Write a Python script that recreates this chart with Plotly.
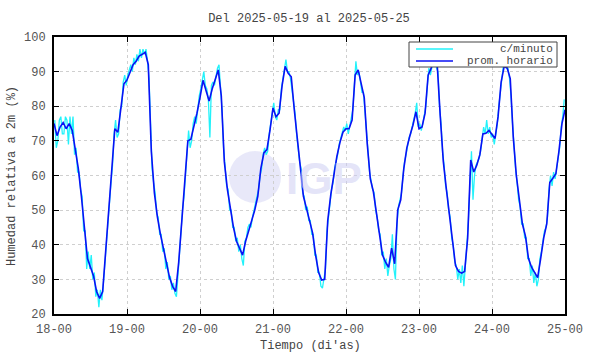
import plotly.graph_objects as go

# hourly averages (hour 0 = 2025-05-18 00:00)
hourly = [75, 71.5, 74, 75.3, 73.5, 75, 73, 68, 62, 54, 44, 36, 33.5, 31, 26.5, 24.5, 26.5, 38, 50, 62,
          73.5, 72.5, 79, 86.5, 87.6, 90, 92, 93, 94.5, 95, 95.6, 92, 67, 55, 48, 43, 38.5, 34, 30.5, 28,
          26.5, 35, 47, 58, 70, 70.5, 74, 78, 82.5, 87.5, 84.5, 81.5, 85, 88, 90.5, 83, 64, 56, 50, 45,
          41, 39, 37, 41, 44, 47, 50, 54, 62, 66.5, 67.5, 73, 79.5, 77, 78, 86, 91.5, 89.5, 88.5, 79,
          70, 63, 54, 50.5, 47, 43.5, 37, 32, 29.8, 30, 47, 54.5, 60, 65.5, 69.5, 72.5, 73.5, 73.5, 76, 89,
          90.5, 86, 82.5, 69, 59, 55.3, 49, 43, 37, 35, 33.5, 39, 34.5, 50, 53, 62, 68, 71.5, 74.5, 78.4,
          73.5, 74, 78, 89, 91, 94, 91.8, 77, 64, 56, 49, 41, 34, 32.3, 31.8, 32.3, 42, 64.5, 61, 63,
          66, 72, 72.2, 73, 72, 70.7, 77, 87, 91.5, 91, 88, 71, 60, 52, 46, 42.5, 36, 33.5, 32, 30.5,
          36, 42, 46, 58, 59.2, 60.5, 67, 75, 79]

# per-minute readings, sampled at h+0.25 and h+0.75 of each hour
minute_a = [76, 70, 77, 72, 76, 77, 77, 68, 61, 54, 44, 38, 37, 32, 27, 27, 29, 40, 54, 63,
            76, 72, 80, 89, 89, 92, 94, 95, 96.5, 96.5, 96.5, 88, 62, 55, 48, 43, 39, 35, 31, 29,
            25, 37, 50, 60, 73, 70, 77, 80, 85, 90, 85, 71, 87, 89, 92, 79, 63, 56, 50, 45,
            42, 40, 34, 42, 46, 48, 52, 56, 62, 68, 67, 75, 81, 76, 79, 88, 93.5, 90, 85, 78,
            68, 62, 54, 51, 47, 43, 37, 32, 27.5, 33, 48, 56, 62, 66, 71, 74, 75, 74, 79, 93,
            90, 84, 79, 67, 59, 55, 48, 43, 38, 36, 34, 43, 30, 51, 55, 64, 68, 72, 75, 81,
            75, 75, 80, 91, 91, 96, 90, 75, 63, 55, 48, 40, 34, 33, 34, 33, 47, 67, 60, 64,
            67, 74, 76, 74, 72, 72, 80, 88, 93, 91, 83, 68, 58, 51, 46, 42, 36, 34, 32, 30,
            38, 44, 48, 60, 61, 62, 68, 77]
minute_b = [68, 76, 72, 77, 69, 72, 66, 61, 56, 44, 33, 33, 30, 25, 22, 24, 35, 46, 58, 72,
            71, 79, 87, 86, 91, 90, 92, 93, 94, 95, 93, 75, 58, 49, 43, 38, 33, 30, 27, 26,
            31, 45, 54, 68, 68, 75, 75, 83, 88, 86, 82, 86, 86, 91, 85, 68, 57, 50, 45, 41,
            38, 36, 41, 45, 45, 50, 53, 60, 66, 66, 72, 78, 77, 79, 85, 91, 90, 88, 82, 72,
            64, 55, 50, 47, 43, 37, 32, 28, 31, 44, 53, 58, 64, 69, 72, 73, 72, 76, 86, 89,
            87, 84, 73, 61, 56, 50, 44, 37, 33, 31, 36, 33, 46, 53, 60, 66, 71, 74, 78, 74,
            73, 78, 86, 89, 94, 91, 80, 67, 57, 50, 42, 35, 30, 29, 28, 40, 59, 53, 63, 65,
            71, 72, 72, 71, 69, 75, 85, 92, 91, 88, 75, 62, 53, 46, 42, 36, 31, 29, 28, 36,
            41, 45, 56, 57, 59, 66, 74, 82]

tick_hours = [0, 24, 48, 72, 96, 120, 144, 168]
tick_labels = ["18-00", "19-00", "20-00", "21-00", "22-00", "23-00", "24-00", "25-00"]
y_ticks = [20, 30, 40, 50, 60, 70, 80, 90, 100]
series_names = ["c/minuto", "prom. horario"]

hours = list(range(len(hourly)))
mx, my = [], []
for h in range(len(minute_a)):
    mx += [h + 0.25, h + 0.75]
    my += [minute_a[h], minute_b[h]]

FONT = "Liberation Mono, Courier New, monospace"
CYAN = "#22f2fa"
BLUE = "#0a10f5"
L, R, T, B = 54, 565, 37, 314
W = R - L
H = B - T
def px(x):
    return (x - L) / W
def py(y):
    return 1 - (y - T) / H

fig = go.Figure()
fig.add_trace(go.Scatter(x=mx, y=my, mode="lines", name=series_names[0],
                         line=dict(color=CYAN, width=1.3), showlegend=False))
fig.add_trace(go.Scatter(x=hours, y=hourly, mode="lines", name=series_names[1],
                         line=dict(color=BLUE, width=1.6), showlegend=False))

# watermark
fig.add_shape(type="circle", xref="paper", yref="paper",
              x0=px(229), x1=px(281), y0=py(203), y1=py(151),
              fillcolor="rgba(205,205,242,0.45)", line=dict(width=0), layer="below")
fig.add_annotation(text="<b>IGP</b>", xref="paper", yref="paper",
                   x=px(324), y=py(178), showarrow=False,
                   font=dict(family="Liberation Sans, Arial", size=44, color="rgba(205,205,242,0.55)"))

# legend box drawn manually
fig.add_shape(type="rect", xref="paper", yref="paper", x0=px(409), x1=px(557), y0=py(67), y1=py(42),
              fillcolor="white", line=dict(color="#444444", width=1), layer="above")
for i, (nm, col) in enumerate(zip(series_names, [CYAN, BLUE])):
    yy = 49 + 12 * i
    fig.add_shape(type="line", xref="paper", yref="paper", x0=px(416), x1=px(453), y0=py(yy), y1=py(yy),
                  line=dict(color=col, width=1.4), layer="above")
    fig.add_annotation(text=nm, xref="paper", yref="paper", x=px(555), y=py(yy), xanchor="right",
                       yanchor="middle", showarrow=False,
                       font=dict(family=FONT, size=11, color="#444444"))

# axis titles
fig.add_annotation(text="Tiempo (di'as)", xref="paper", yref="paper", x=px(310), y=py(346),
                   xanchor="center", yanchor="middle", showarrow=False,
                   font=dict(family=FONT, size=12, color="#444444"))
fig.add_annotation(text="Humedad relativa a 2m (%)", xref="paper", yref="paper", x=px(12), y=py(176),
                   xanchor="center", yanchor="middle", showarrow=False, textangle=-90,
                   font=dict(family=FONT, size=12, color="#444444"))

axis_common = dict(showline=True, linecolor="black", linewidth=2, mirror="ticks",
                   ticks="inside", ticklen=5, tickcolor="black", tickwidth=1,
                   showgrid=True, gridcolor="#cfcfcf", griddash="dot", gridwidth=1,
                   zeroline=False, automargin=False,
                   tickfont=dict(family=FONT, size=12, color="#555555"))
fig.update_layout(
    width=590, height=354,
    margin=dict(l=L, r=590 - R, t=T, b=354 - B),
    paper_bgcolor="white", plot_bgcolor="white",
    title=dict(text="Del 2025-05-19 al 2025-05-25", x=px(309), xref="paper", xanchor="center",
               y=1 - 18 / 354, yanchor="middle",
               font=dict(family=FONT, size=12, color="#444444")),
    xaxis=dict(range=[0, 168], tickvals=tick_hours, ticktext=tick_labels, ticklabelstandoff=3,
               **axis_common),
    yaxis=dict(range=[20, 100], tickvals=y_ticks, ticklabelstandoff=4, **axis_common),
    showlegend=False,
)
fig.write_html("out.html")
